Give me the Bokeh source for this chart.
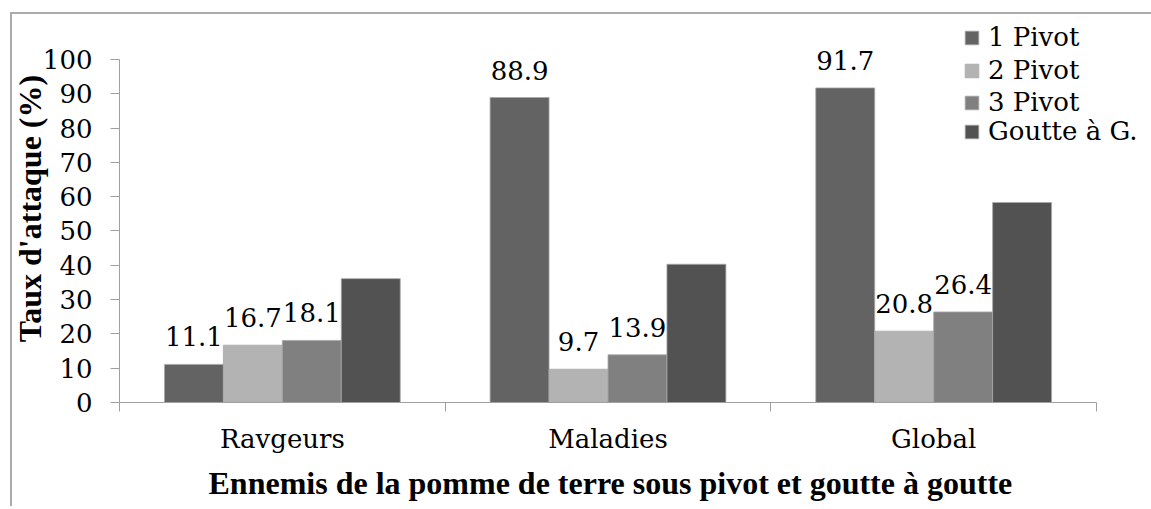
from bokeh.plotting import figure
from bokeh.models import (Range1d, FixedTicker, ColumnDataSource, LabelSet, Legend, LegendItem, Title)
from bokeh.core.properties import value
from bokeh.embed import file_html
from bokeh.resources import INLINE

categories = ["Ravgeurs", "Maladies", "Global"]
series = ["1 Pivot", "2 Pivot", "3 Pivot", "Goutte à G."]
pivot1 = [11.1, 88.9, 91.7]
pivot2 = [16.7, 9.7, 20.8]
pivot3 = [18.1, 13.9, 26.4]
goutte = [36.1, 40.3, 58.3]
labelled = [True, True, True, False]
colors = ["#636363", "#b3b3b3", "#808080", "#525252"]
y_ticks = [0, 10, 20, 30, 40, 50, 60, 70, 80, 90, 100]
x_title = "Ennemis de la pomme de terre sous pivot et goutte à goutte"
y_title = "Taux d'attaque (%)"

FONT = "DejaVu Serif"       # regular serif text
FSIZE = "26px"
BFONT = "Liberation Serif"  # bold titles
values = [pivot1, pivot2, pivot3, goutte]

n = len(categories)
# frame extends right of the category axis so the legend is not clipped
x_end = n * 1026 / 977
p = figure(frame_width=1026, frame_height=388, output_backend="svg", toolbar_location=None,
           x_range=Range1d(0, x_end), y_range=Range1d(0, 113.1),
           min_border_left=119, min_border_right=6, min_border_top=14, min_border_bottom=99)
p.styles = {"box-shadow": "inset 10px 12px 0 0 #ffffff, inset 12px 14px 0 0 #ababab"}
p.border_fill_alpha = 0
p.grid.visible = False
p.outline_line_color = None
p.background_fill_color = "white"

bw = 0.181
renderers = []
for j, (name, vals) in enumerate(zip(series, values)):
    xs = [i + 0.5 + (j - 1.5) * bw for i in range(n)]
    src = ColumnDataSource(dict(x=xs, top=vals, lab=[f"{v:.1f}" for v in vals]))
    r = p.vbar(x="x", top="top", width=bw, bottom=0, source=src,
               fill_color=colors[j], line_color="#a8a8a8", line_width=0.8)
    renderers.append(r)
    if labelled[j]:
        ls = LabelSet(x="x", y="top", text="lab", source=src, y_offset=18,
                      text_align="center", text_baseline="alphabetic",
                      text_font=value(FONT), text_font_size=value(FSIZE),
                      text_color=value("black"))
        p.add_layout(ls)

# y axis
ya = p.yaxis[0]
ya.ticker = FixedTicker(ticks=y_ticks)
ya.bounds = (0, 100)
ya.axis_line_color = "#a0a0a0"
ya.major_tick_line_color = "#a0a0a0"
ya.major_tick_out = 9
ya.major_tick_in = 0
ya.minor_tick_line_color = None
ya.major_label_text_font = FONT
ya.major_label_text_font_size = FSIZE
ya.major_label_text_color = "black"
ya.major_label_standoff = 18
ya.axis_label = y_title
ya.axis_label_text_font = BFONT
ya.axis_label_text_font_style = "bold"
ya.axis_label_text_font_size = "32px"
ya.axis_label_text_color = "black"
ya.axis_label_standoff = -8

# x axis: labels at centers, separator ticks at boundaries
xa = p.xaxis[0]
centers = [i + 0.5 for i in range(n)]
bounds_ticks = [float(i) for i in range(n + 1)]
xa.ticker = FixedTicker(ticks=centers, minor_ticks=bounds_ticks)
xa.bounds = (0, n)
xa.major_label_overrides = {c: name for c, name in zip(centers, categories)}
xa.major_tick_line_color = None
xa.major_tick_out = 0
xa.major_tick_in = 0
xa.minor_tick_line_color = "#a0a0a0"
xa.minor_tick_out = 9
xa.minor_tick_in = 0
xa.axis_line_color = "#a0a0a0"
xa.major_label_text_font = FONT
xa.major_label_text_font_size = FSIZE
xa.major_label_text_color = "black"
xa.major_label_standoff = 12

# x title, centred under the category axis (not under the wider frame)
p.add_layout(Title(text=x_title, align="left", offset=89, standoff=12,
                   text_font=BFONT, text_font_style="bold", text_font_size="32px",
                   text_color="black"), "below")

legend_y = [350, 317, 285, 256]
for s, r, ly in zip(series, renderers, legend_y):
    lg = Legend(items=[LegendItem(label=s, renderers=[r])],
                location=(844, ly), padding=0, margin=0, spacing=0,
                glyph_width=17, glyph_height=17, label_standoff=8,
                label_text_font=FONT, label_text_font_size=FSIZE,
                label_text_color="black",
                border_line_color=None, background_fill_alpha=0)
    p.add_layout(lg, "center")

open("out.html", "w").write(file_html(p, INLINE))
